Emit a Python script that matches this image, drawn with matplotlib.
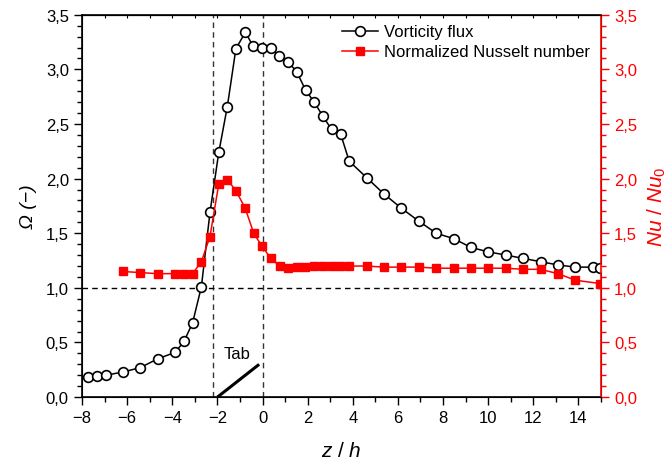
import matplotlib
matplotlib.use('Agg')
import matplotlib.pyplot as plt
from matplotlib.ticker import MultipleLocator, FuncFormatter, NullFormatter

plt.rcParams['font.family'] = ['Liberation Sans', 'DejaVu Sans']
plt.rcParams['mathtext.fontset'] = 'custom'
plt.rcParams['mathtext.rm'] = 'Liberation Sans'
plt.rcParams['mathtext.it'] = 'Liberation Sans:italic'

# vorticity flux (black circles)
z_vort = [-7.72, -7.35, -6.95, -6.18, -5.42, -4.65, -3.87, -3.48, -3.10, -2.71,
          -2.33, -1.94, -1.56, -1.18, -0.76, -0.41, -0.03, 0.36, 0.74, 1.13,
          1.51, 1.91, 2.29, 2.68, 3.06, 3.46, 3.84, 4.61, 5.38, 6.15,
          6.93, 7.70, 8.48, 9.24, 10.00, 10.79, 11.55, 12.32, 13.09, 13.87,
          14.63, 14.95]
omega = [0.18, 0.19, 0.20, 0.23, 0.27, 0.35, 0.41, 0.51, 0.68, 1.01,
         1.69, 2.24, 2.66, 3.19, 3.34, 3.21, 3.20, 3.20, 3.12, 3.07,
         2.98, 2.81, 2.70, 2.57, 2.45, 2.41, 2.16, 2.01, 1.86, 1.73,
         1.61, 1.50, 1.45, 1.37, 1.33, 1.30, 1.27, 1.24, 1.21, 1.19,
         1.19, 1.18]

# normalized Nusselt number (red squares)
z_nu = [-6.18, -5.42, -4.65, -3.87, -3.48, -3.10, -2.71, -2.33, -1.94, -1.56,
        -1.18, -0.77, -0.39, -0.02, 0.37, 0.76, 1.14, 1.52, 1.90, 2.29,
        2.67, 3.06, 3.44, 3.83, 4.61, 5.38, 6.15, 6.93, 7.70, 8.48,
        9.24, 10.00, 10.79, 11.55, 12.32, 13.09, 13.87, 14.95]
nu_ratio = [1.15, 1.14, 1.13, 1.13, 1.13, 1.13, 1.24, 1.47, 1.95, 1.99,
            1.89, 1.73, 1.50, 1.38, 1.27, 1.20, 1.18, 1.19, 1.19, 1.20,
            1.20, 1.20, 1.20, 1.20, 1.20, 1.19, 1.19, 1.19, 1.18, 1.18,
            1.18, 1.18, 1.18, 1.17, 1.17, 1.13, 1.07, 1.04]

# tab sketch and reference lines
tab_z = [-2.0, -0.15]
tab_y = [0.0, 0.30]
vlines = [-2.2, 0.0]

comma = FuncFormatter(lambda v, p: f'{v:.1f}'.replace('.', ','))

fig = plt.figure(figsize=(6.67, 4.64), dpi=100)
ax = fig.add_axes([0.123, 0.142, 0.778, 0.824])
ax2 = ax.twinx()

for v in vlines:
    ax.axvline(v, color='#333333', ls=(0, (4, 3)), lw=1)
ax.axhline(1.0, color='black', ls=(0, (4, 3)), lw=1)
ax.plot(tab_z, tab_y, color='black', lw=2.2, solid_capstyle='butt')
ax.text(-1.15, 0.40, 'Tab', fontsize=12, ha='center', va='center')

l1, = ax.plot(z_vort, omega, color='black', lw=1.1, marker='o', ms=7,
              mfc='white', mec='black', mew=1.2, label='Vorticity flux', zorder=5)
l2, = ax2.plot(z_nu, nu_ratio, color='red', lw=1.1, marker='s', ms=5.5,
               mfc='red', mec='red', label='Normalized Nusselt number')

ax.set_xlim(-8, 15)
ax.set_ylim(0, 3.5)
ax2.set_ylim(0, 3.5)

ax.xaxis.set_major_locator(MultipleLocator(2))
ax.xaxis.set_minor_locator(MultipleLocator(1))
ax.yaxis.set_major_locator(MultipleLocator(0.5))
ax.yaxis.set_minor_locator(MultipleLocator(0.1))
ax2.yaxis.set_major_locator(MultipleLocator(0.5))
ax2.yaxis.set_minor_locator(MultipleLocator(0.1))
ax.yaxis.set_major_formatter(comma)
ax2.yaxis.set_major_formatter(comma)

ax.tick_params(axis='both', which='major', direction='out', length=6, width=1, labelsize=12)
ax.tick_params(axis='both', which='minor', direction='out', length=3.5, width=1)
ax.tick_params(axis='y', right=False)
ax2.tick_params(axis='y', which='major', direction='out', length=6, width=1,
                colors='red', labelsize=12)
ax2.tick_params(axis='y', which='minor', direction='out', length=3.5, width=1, colors='red')
ax2.spines['right'].set_color('red')
for s in ['left', 'bottom', 'top']:
    ax.spines[s].set_linewidth(1.2)
ax2.spines['right'].set_linewidth(1.2)

# small inward ticks on the top frame
top = ax.secondary_xaxis('top')
top.xaxis.set_major_locator(MultipleLocator(1))
top.xaxis.set_major_formatter(NullFormatter())
top.tick_params(direction='in', length=2.5, width=0.8)

ax.set_xlabel(r'$z$ / $h$', fontsize=15, labelpad=11)
ax.set_ylabel('Ω (−)', fontsize=14, fontstyle='italic', labelpad=6)
ax2.set_ylabel(r'$Nu$ / $Nu_0$', fontsize=15, color='red', labelpad=6)

ax.legend([l1, l2], ['Vorticity flux', 'Normalized Nusselt number'],
          loc='upper left', bbox_to_anchor=(0.500, 0.975), frameon=False,
          fontsize=12, handlelength=2.2, handletextpad=0.35, borderpad=0,
          borderaxespad=0, labelspacing=0.3)

fig.savefig('out.png', dpi=100)
